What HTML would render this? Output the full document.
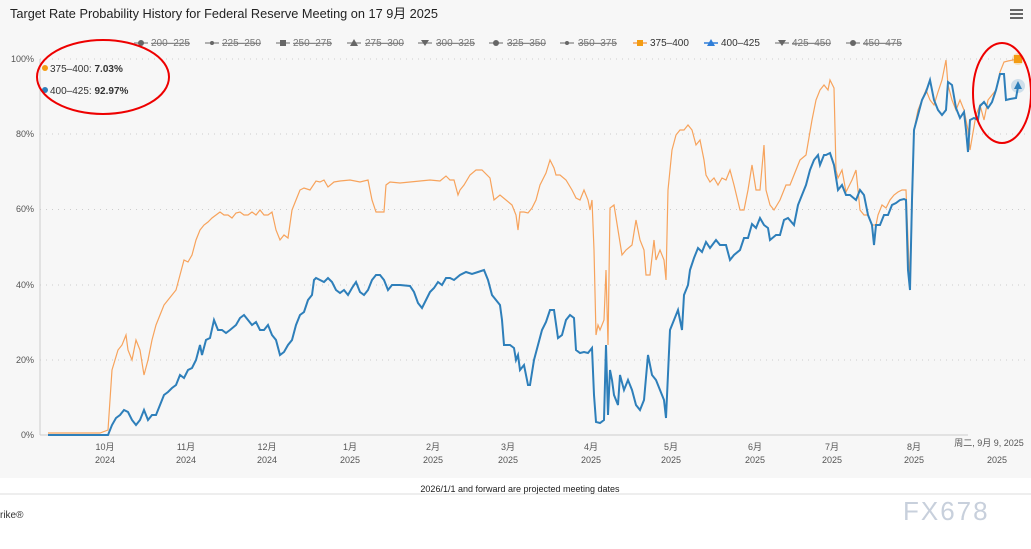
<!DOCTYPE html>
<html><head><meta charset="utf-8"><style>
body{margin:0;background:#fff;width:1031px;height:544px;overflow:hidden;font-family:"Liberation Sans","Noto Sans CJK SC",sans-serif}
</style></head><body>
<svg width="1031" height="544" xmlns="http://www.w3.org/2000/svg" font-family="Liberation Sans, Noto Sans CJK SC, sans-serif">
<rect x="0" y="0" width="1031" height="478" fill="#f7f7f7"/>
<line x1="0" y1="494" x2="1031" y2="494" stroke="#ddd"/>
<text x="10" y="18" font-size="13" fill="#222" textLength="428" lengthAdjust="spacingAndGlyphs">Target Rate Probability History for Federal Reserve Meeting on 17 9月 2025</text>
<g stroke="#666" stroke-width="2"><line x1="1010" y1="10" x2="1023" y2="10"/><line x1="1010" y1="14" x2="1023" y2="14"/><line x1="1010" y1="18" x2="1023" y2="18"/></g>
<g font-size="10" fill="#777">
<g text-decoration="line-through">
<text x="151" y="46">200–225</text><text x="222" y="46">225–250</text><text x="293" y="46">250–275</text><text x="365" y="46">275–300</text><text x="436" y="46">300–325</text><text x="507" y="46">325–350</text><text x="578" y="46">350–375</text><text x="792" y="46">425–450</text><text x="863" y="46">450–475</text></g>
<text x="650" y="46" fill="#333">375–400</text><text x="721" y="46" fill="#333">400–425</text>
</g>
<g stroke="#999" stroke-width="1.5"><line x1="134" y1="43" x2="148" y2="43"/><line x1="205" y1="43" x2="219" y2="43"/><line x1="276" y1="43" x2="290" y2="43"/><line x1="347" y1="43" x2="361" y2="43"/><line x1="418" y1="43" x2="432" y2="43"/><line x1="489" y1="43" x2="503" y2="43"/><line x1="560" y1="43" x2="574" y2="43"/><line x1="775" y1="43" x2="789" y2="43"/><line x1="846" y1="43" x2="860" y2="43"/></g>
<line x1="633" y1="43" x2="647" y2="43" stroke="#f7a35c" stroke-width="1.5"/><rect x="637" y="40" width="6" height="6" fill="#f39c12"/>
<line x1="704" y1="43" x2="718" y2="43" stroke="#2f7ed8" stroke-width="1.5"/><polygon points="711,39 715,46 707,46" fill="#2f7ed8"/>
<g fill="#666"><circle cx="141" cy="43" r="3"/><circle cx="212" cy="43" r="2"/><rect x="280" y="40" width="6" height="6"/><polygon points="354,39 358,46 350,46"/><polygon points="421,40 429,40 425,46"/><circle cx="496" cy="43" r="3"/><circle cx="567" cy="43" r="2"/><polygon points="778,40 786,40 782,46"/><circle cx="853" cy="43" r="3"/></g>
<g stroke="#ccc" stroke-dasharray="1,5"><line x1="40" y1="59" x2="1025" y2="59"/><line x1="40" y1="134" x2="1025" y2="134"/><line x1="40" y1="209.5" x2="1025" y2="209.5"/><line x1="40" y1="285" x2="1025" y2="285"/><line x1="40" y1="360" x2="1025" y2="360"/></g>
<line x1="40" y1="435" x2="968" y2="435" stroke="#ccc"/>
<line x1="40" y1="59" x2="40" y2="435" stroke="#ccc"/>
<g font-size="9" fill="#555" text-anchor="end"><text x="34" y="62">100%</text><text x="34" y="137">80%</text><text x="34" y="212">60%</text><text x="34" y="288">40%</text><text x="34" y="363">20%</text><text x="34" y="438">0%</text></g>
<g font-size="9" fill="#555" text-anchor="middle">
<text x="105" y="450">10月</text><text x="105" y="463">2024</text>
<text x="186" y="450">11月</text><text x="186" y="463">2024</text>
<text x="267" y="450">12月</text><text x="267" y="463">2024</text>
<text x="350" y="450">1月</text><text x="350" y="463">2025</text>
<text x="433" y="450">2月</text><text x="433" y="463">2025</text>
<text x="508" y="450">3月</text><text x="508" y="463">2025</text>
<text x="591" y="450">4月</text><text x="591" y="463">2025</text>
<text x="671" y="450">5月</text><text x="671" y="463">2025</text>
<text x="755" y="450">6月</text><text x="755" y="463">2025</text>
<text x="832" y="450">7月</text><text x="832" y="463">2025</text>
<text x="914" y="450">8月</text><text x="914" y="463">2025</text>
<text x="997" y="463">2025</text>
<text x="989" y="446">周二, 9月 9, 2025</text>
<text x="520" y="492" fill="#222">2026/1/1 and forward are projected meeting dates</text>
</g>
<text x="0" y="518" font-size="10" fill="#333">rike®</text>
<text x="903" y="520" font-size="26" fill="#c8d0dc" letter-spacing="2">FX678</text>
<polyline fill="none" stroke="#f7a35c" stroke-width="1.2" points="48,433 100,433 108,430 112,370 118,350 122,345 126,335 128,350 132,360 136,340 140,350 144,375 148,360 152,340 156,325 160,315 164,305 168,300 172,295 176,290 180,275 184,260 188,262 192,255 196,240 200,230 204,225 208,222 212,218 216,215 220,212 224,215 228,215 232,218 236,213 240,212 244,215 248,215 252,212 256,215 260,210 264,215 268,215 272,212 276,230 280,240 284,235 288,238 292,210 296,200 300,190 304,188 310,190 316,181 320,182 324,180 328,187 334,182 340,181 350,180 360,182 368,180 372,200 376,212 380,212 384,212 386,185 390,182 400,183 410,182 420,181 430,180 440,181 446,176 450,180 454,180 458,195 460,190 464,185 470,175 476,170 482,170 490,178 494,200 500,195 506,200 512,205 516,215 518,230 520,212 524,212 528,213 532,208 536,200 540,185 546,173 550,160 554,168 556,175 560,175 566,180 572,190 576,198 580,200 584,190 588,200 590,210 592,200 594,250 596,335 598,325 600,330 604,320 606,270 608,345 610,208 614,205 618,230 622,255 626,250 632,245 636,220 640,240 644,250 646,275 650,275 654,240 656,260 660,250 664,260 666,280 668,190 672,150 676,135 680,130 684,130 688,125 692,130 696,145 700,140 704,160 706,175 710,182 714,178 718,185 722,178 726,180 730,170 734,185 740,210 744,210 748,190 752,165 756,190 760,190 764,145 766,190 770,205 774,210 780,200 786,185 790,185 794,175 800,160 806,155 812,120 816,100 820,90 824,85 828,90 830,80 834,88 836,170 838,178 842,170 846,192 852,180 856,170 860,210 864,215 868,215 872,225 876,225 878,215 882,205 886,208 890,200 894,195 898,192 902,190 906,190 910,290 914,130 918,110 922,100 926,90 930,100 934,105 938,92 942,80 946,60 948,85 952,100 956,110 960,100 964,110 968,130 970,150 976,115 980,105 984,120 988,100 992,95 996,90 1000,72 1004,62 1008,61 1018,59"/>
<polyline fill="none" stroke="#2e7fba" stroke-width="2" points="48,435 108,435 112,425 116,418 120,415 124,410 128,412 132,420 136,425 140,420 144,410 148,420 152,415 156,415 160,405 164,395 168,392 172,388 176,385 180,375 184,378 188,370 192,368 196,360 200,345 202,355 206,340 210,338 214,320 218,330 222,330 226,333 230,330 236,325 240,318 244,315 248,320 252,325 256,322 260,330 264,330 268,325 272,335 276,340 280,355 284,352 288,345 292,340 296,325 300,315 304,312 308,300 312,295 314,280 316,278 320,280 324,282 328,278 332,282 336,290 340,293 344,290 348,295 352,288 356,282 360,292 364,295 368,290 372,280 376,275 380,275 384,280 388,290 392,285 400,285 410,286 414,292 418,303 422,308 426,300 430,292 434,288 438,282 442,285 446,278 450,278 454,280 460,275 466,272 472,274 478,272 484,270 488,280 492,295 496,300 500,305 502,320 504,345 510,345 514,348 516,360 518,355 520,370 524,365 528,385 530,385 534,360 538,345 542,330 546,322 550,310 554,310 558,338 562,335 566,320 570,315 574,318 576,350 580,353 584,352 588,353 592,348 594,395 596,422 600,423 604,420 606,345 608,415 610,370 612,380 614,395 618,405 620,375 624,390 628,380 632,390 636,405 640,410 644,400 648,355 652,375 656,380 660,390 664,400 666,418 670,330 674,320 678,310 680,320 682,330 684,295 688,285 690,270 694,258 698,248 702,252 706,242 710,248 716,240 720,245 726,245 730,260 734,255 740,250 744,238 748,238 752,224 756,228 760,218 764,225 768,228 770,240 776,235 780,235 784,220 788,218 794,225 798,205 802,195 806,185 810,170 814,160 818,155 820,165 824,155 826,155 830,153 834,165 838,190 842,185 846,195 850,195 856,200 860,190 864,195 868,215 872,225 874,245 876,225 880,225 884,215 888,215 892,205 896,203 900,200 904,199 906,200 908,270 910,290 912,200 914,130 918,115 922,100 926,92 930,80 934,100 938,110 942,115 946,110 948,82 952,85 956,108 960,118 964,112 966,130 968,152 970,120 974,118 978,120 980,106 984,102 988,108 992,102 996,90 1000,74 1004,74 1006,100 1010,99 1016,98 1018,87"/>
<circle cx="1018" cy="59" r="6" fill="#f39c12" opacity="0.25"/><rect x="1014" y="55" width="8" height="8" fill="#f39c12"/>
<circle cx="1018" cy="86" r="7" fill="#2e7fba" opacity="0.2"/><polygon points="1018,81 1022,89 1014,89" fill="#2e7fba"/>
<circle cx="45" cy="68" r="3" fill="#f39c12"/><text x="50" y="72" font-size="10" fill="#333">375–400: <tspan font-weight="bold">7.03%</tspan></text>
<circle cx="45" cy="90" r="3" fill="#2e7fba"/><text x="50" y="94" font-size="10" fill="#333">400–425: <tspan font-weight="bold">92.97%</tspan></text>
<ellipse cx="103" cy="77" rx="66" ry="37" fill="none" stroke="#e00" stroke-width="2"/>
<ellipse cx="1002" cy="93" rx="29" ry="50" fill="none" stroke="#e00" stroke-width="2"/>
</svg>
</body></html>
